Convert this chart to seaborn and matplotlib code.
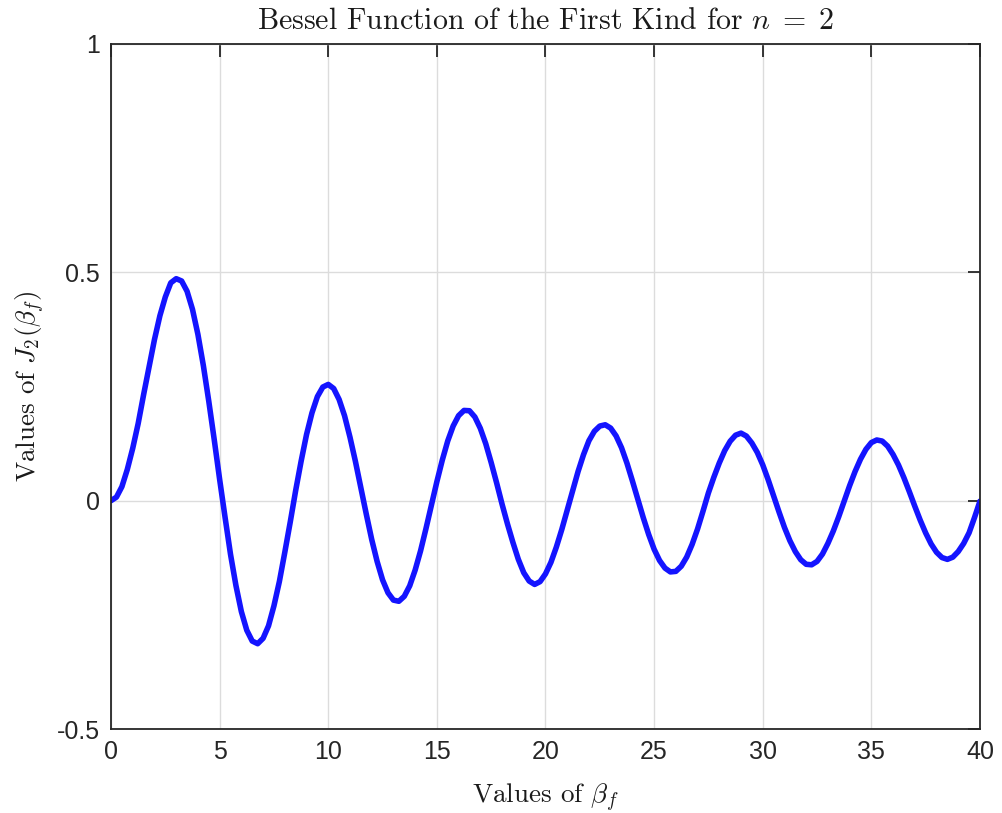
import matplotlib
matplotlib.use("Agg")
import matplotlib.pyplot as plt
import seaborn as sns
import pandas as pd

# Sampled values of J_2(beta_f), step 0.25 from 0 to 40
beta_f = [i * 0.25 for i in range(161)]
j2_values = [
    0.0000, 0.0078, 0.0306, 0.0685, 0.1149, 0.1690, 0.2321, 0.2930, 0.3528, 0.4050,
    0.4461, 0.4770, 0.4861, 0.4810, 0.4586, 0.4190, 0.3641, 0.2960, 0.2178, 0.1340,
    0.0466, -0.0365, -0.1173, -0.1858, -0.2429, -0.2838, -0.3074, -0.3132, -0.3014, -0.2741,
    -0.2303, -0.1770, -0.1130, -0.0468, 0.0223, 0.0862, 0.1448, 0.1922, 0.2279, 0.2488,
    0.2546, 0.2456, 0.2216, 0.1860, 0.1390, 0.0861, 0.0280, -0.0293, -0.0849, -0.1332,
    -0.1734, -0.2017, -0.2177, -0.2203, -0.2094, -0.1864, -0.1520, -0.1097, -0.0608, -0.0099,
    0.0416, 0.0889, 0.1308, 0.1635, 0.1862, 0.1976, 0.1969, 0.1832, 0.1584, 0.1247,
    0.0834, 0.0391, -0.0075, -0.0510, -0.0914, -0.1285, -0.1578, -0.1760, -0.1834, -0.1773,
    -0.1603, -0.1351, -0.1016, -0.0631, -0.0207, 0.0223, 0.0639, 0.1007, 0.1314, 0.1520,
    0.1634, 0.1662, 0.1589, 0.1418, 0.1160, 0.0822, 0.0434, 0.0032, -0.0371, -0.0740,
    -0.1063, -0.1309, -0.1476, -0.1560, -0.1548, -0.1435, -0.1235, -0.0957, -0.0620, -0.0232,
    0.0170, 0.0513, 0.0825, 0.1096, 0.1301, 0.1434, 0.1479, 0.1414, 0.1262, 0.1056,
    0.0785, 0.0460, 0.0106, -0.0247, -0.0585, -0.0876, -0.1114, -0.1293, -0.1393, -0.1404,
    -0.1330, -0.1169, -0.0936, -0.0663, -0.0349, -0.0011, 0.0328, 0.0637, 0.0907, 0.1124,
    0.1272, 0.1329, 0.1305, 0.1194, 0.1011, 0.0780, 0.0502, 0.0196, -0.0121, -0.0427,
    -0.0706, -0.0946, -0.1129, -0.1245, -0.1285, -0.1237, -0.1114, -0.0937, -0.0703, -0.0368,
    -0.0011,
]
x_ticks = [0, 5, 10, 15, 20, 25, 30, 35, 40]
y_ticks = [-0.5, 0, 0.5, 1]
y_tick_labels = ["-0.5", "0", "0.5", "1"]

df = pd.DataFrame({"beta": beta_f, "J2": j2_values})

sns.set_theme(style="white")
plt.rcParams["font.family"] = ["Liberation Sans", "DejaVu Sans"]
plt.rcParams["mathtext.fontset"] = "cm"

fig = plt.figure(figsize=(10.02, 8.13), dpi=100)
ax = fig.add_axes([0.1108, 0.1033, 0.978 - 0.1108, 0.9459 - 0.1033])

sns.lineplot(data=df, x="beta", y="J2", ax=ax, color="#1414ff", linewidth=4.0,
             solid_capstyle="round", solid_joinstyle="round")

ax.set_xlim(0, 40)
ax.set_ylim(-0.5, 1)
ax.set_xticks(x_ticks)
ax.set_xticklabels([str(t) for t in x_ticks])
ax.set_yticks(y_ticks)
ax.set_yticklabels(y_tick_labels)

ax.grid(True, color="#dcdcdc", linewidth=1.0)
ax.set_axisbelow(True)
for side in ["left", "right", "top", "bottom"]:
    ax.spines[side].set_visible(True)
    ax.spines[side].set_color("#262626")
    ax.spines[side].set_linewidth(1.3)

ax.tick_params(axis="both", direction="in", length=9, width=1.3, color="#262626",
               top=True, right=True, labelsize=18, labelcolor="#262626", pad=8)

serif = "cmr10"
ax.set_title(r"Bessel Function of the First Kind for $n\;=\;2$", fontfamily=serif,
             fontsize=21.5, color="#1a1a1a", pad=11)
ax.set_xlabel(r"Values of $\beta_f$", fontfamily=serif, fontsize=19.5,
              color="#1a1a1a", labelpad=13)
ax.set_ylabel(r"Values of $J_2(\beta_f)$", fontfamily=serif, fontsize=19.5,
              color="#1a1a1a", labelpad=7)

fig.savefig("out.png", dpi=100, facecolor="white")
